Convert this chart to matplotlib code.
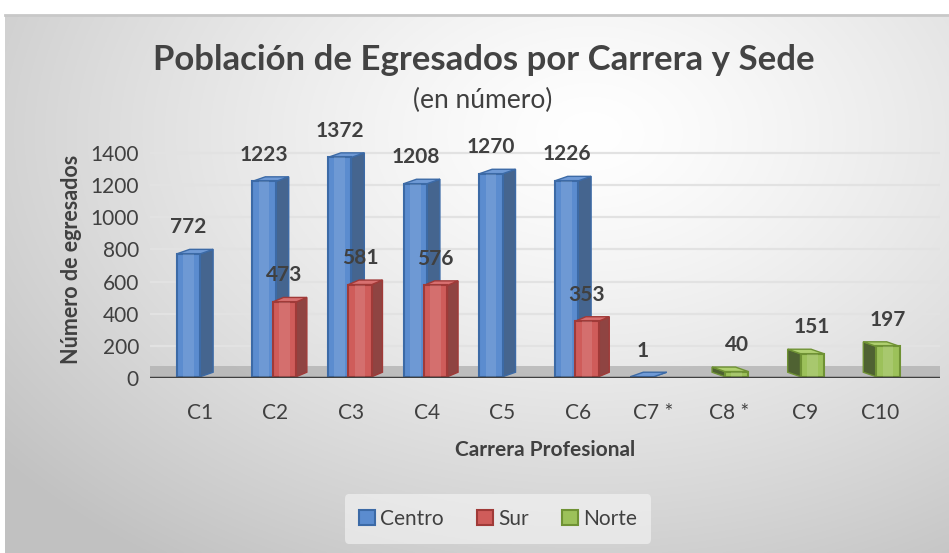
import numpy as np
import matplotlib
matplotlib.use("Agg")
import matplotlib.pyplot as plt
from matplotlib.patches import Patch, Polygon

categories = ["C1", "C2", "C3", "C4", "C5", "C6", "C7 *", "C8 *", "C9", "C10"]
centro = [772, 1223, 1372, 1208, 1270, 1226, 1, np.nan, np.nan, np.nan]
sur = [np.nan, 473, 581, 576, np.nan, 353, np.nan, np.nan, np.nan, np.nan]
norte = [np.nan, np.nan, np.nan, np.nan, np.nan, np.nan, np.nan, 40, 151, 197]
yticks = [0, 200, 400, 600, 800, 1000, 1200, 1400]

title = "Población de Egresados por Carrera y Sede"
subtitle = "(en número)"
ylabel = "Número de egresados"
xlabel = "Carrera Profesional"
series_names = ["Centro", "Sur", "Norte"]

plt.rcParams['font.family'] = ['Lato', 'DejaVu Sans']
W, H = 949, 553
fig = plt.figure(figsize=(W / 100, H / 100), dpi=100)
fig.patch.set_facecolor("white")

# background panel with radial gradient
bg = fig.add_axes([5 / W, 0, 1 - 5 / W, 1 - 15 / H])
bg.set_axis_off()
yy, xx = np.mgrid[0:1:300j, 0:1:500j]
d = np.sqrt(((xx - 0.62) / 0.75) ** 2 + ((yy - 0.78) / 0.9) ** 2)
val = np.clip(1.0 - 0.22 * d ** 1.3, 0.76, 1.0)
bg.imshow(np.dstack([val, val, val]), extent=[0, 1, 0, 1], origin="lower", aspect="auto")
bg.plot([0, 1], [1, 1], color="#c8c8c8", lw=2, transform=bg.transAxes, clip_on=False)

ax = fig.add_axes([150 / W, (H - 378) / H, 790 / W, 238 / H])
ax.patch.set_alpha(0)
x = np.arange(len(categories))
ax.set_xlim(-0.66, 9.79)
ax.set_ylim(0, 1480)

for t in yticks[1:]:
    ax.axhline(t, color="#e2e2e2", lw=1.6, zorder=1)
ax.axhspan(0, 75, color="#b0b0b0", alpha=0.75, zorder=1, lw=0)
ax.axhline(0, color="#3f3f3f", lw=2.5, zorder=8)

styles = [
    (centro, -0.15, "#5b8ccf", "#3c6aa6", "#45658f", "#6f9ad6", 0.17),
    (sur, 0.12, "#cf5c5a", "#a03a38", "#8f4442", "#d87070", 0.14),
    (norte, 0.10, "#9cc15a", "#6f9234", "#4f6232", "#b0d070", -0.17),
]
w = 0.31
dy = 28
b = 8
for k, (vals, off, face, edge, side, top, dx) in enumerate(styles):
    v = np.array(vals, dtype=float)
    m = ~np.isnan(v)
    xs = x[m] + off
    hv = v[m]
    z = 3 + k
    for xi, hi in zip(xs, hv):
        left, right = xi - w / 2, xi + w / 2
        top_y = max(hi, b)
        if dx > 0:
            side_pts = [(right, b), (right + dx, b + dy), (right + dx, top_y + dy), (right, top_y)]
        else:
            side_pts = [(left, b), (left + dx, b + dy), (left + dx, top_y + dy), (left, top_y)]
        ax.add_patch(Polygon(side_pts, closed=True, facecolor=side, edgecolor=edge, lw=1, zorder=z))
        top_pts = [(left, top_y), (right, top_y), (right + dx, top_y + dy), (left + dx, top_y + dy)]
        ax.add_patch(Polygon(top_pts, closed=True, facecolor=top, edgecolor=edge, lw=1, zorder=z))
    heights = np.maximum(hv, b) - b
    ax.bar(xs, heights, bottom=b, width=w, color=face, edgecolor=edge, lw=1.5, zorder=z + 0.1)
    ax.bar(xs, heights, bottom=b, width=w * 0.45, color="white", alpha=0.12, lw=0, zorder=z + 0.2)
    for xi, hi in zip(xs, hv):
        ax.annotate(f"{int(hi)}", (xi, hi), xytext=(0, 12), textcoords="offset points",
                    ha="center", va="bottom", fontsize=15, fontweight="bold",
                    color="#404040", zorder=10, annotation_clip=False)

ax.set_xticks(x)
ax.set_xticklabels(categories)
ax.set_yticks(yticks)
ax.tick_params(axis="both", length=0, labelsize=15, colors="#404040")
ax.tick_params(axis="x", pad=18)
ax.tick_params(axis="y", pad=8)
for s in ax.spines.values():
    s.set_visible(False)

ax.set_ylabel(ylabel, fontsize=15.5, fontweight="bold", color="#404040", labelpad=6)
ax.set_xlabel(xlabel, fontsize=15, fontweight="bold", color="#404040", labelpad=12)

fig.text(484 / W, 1 - 60 / H, title, ha="center", va="center", fontsize=25,
         fontweight="bold", color="#434343")
fig.text(483 / W, 1 - 100 / H, subtitle, ha="center", va="center", fontsize=19,
         color="#404040")

handles = [Patch(facecolor=s[2], edgecolor=s[3], lw=1.5) for s in styles]
leg = fig.legend(handles, series_names, loc="center", bbox_to_anchor=(498 / W, 1 - 519 / H),
                 ncol=3, frameon=True, fontsize=15, handlelength=0.75, handleheight=0.75,
                 handletextpad=0.25, columnspacing=1.6, borderpad=0.7)
leg.get_frame().set_facecolor("#f6f6f6")
leg.get_frame().set_edgecolor("none")
leg.get_frame().set_alpha(0.6)
for t in leg.get_texts():
    t.set_color("#404040")

fig.savefig("out.png", dpi=100)
